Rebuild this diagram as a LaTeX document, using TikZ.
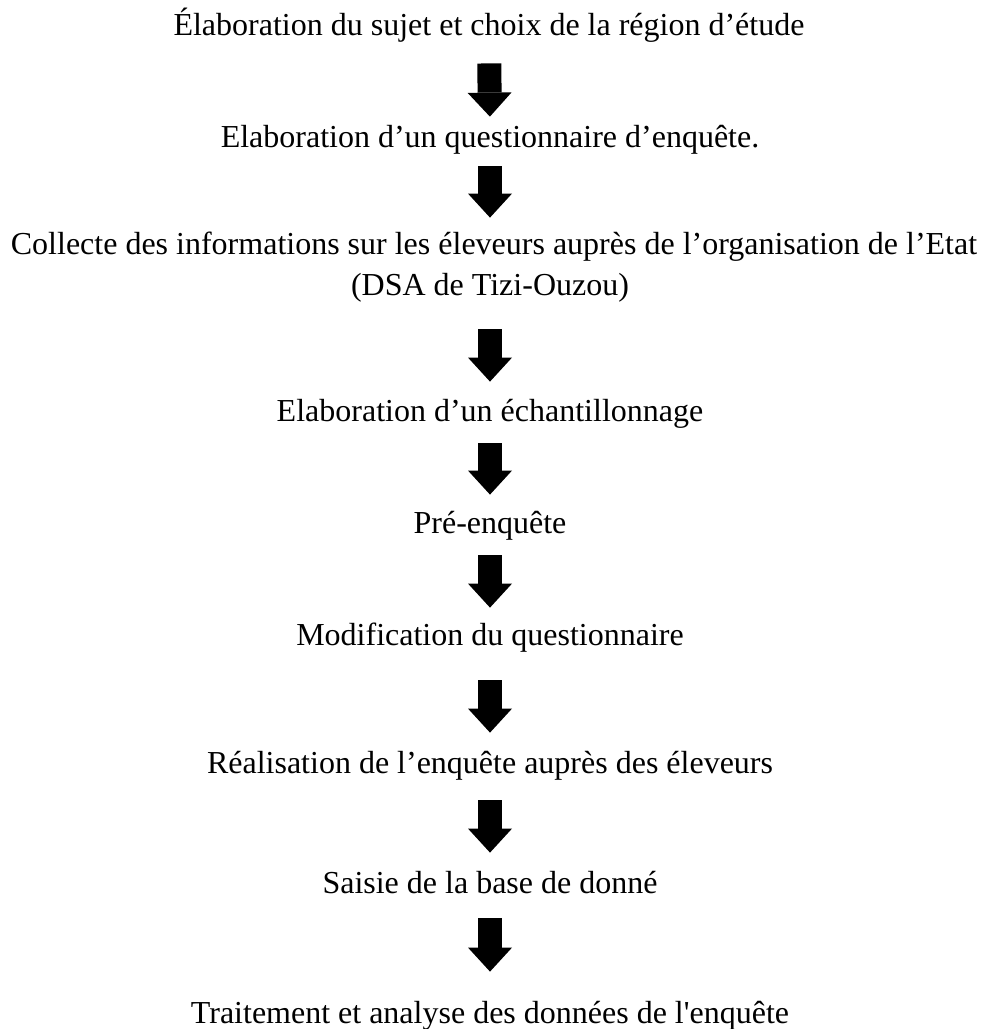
\documentclass[tikz,border=0pt]{standalone}
\usepackage{fontspec}
\setmainfont{Liberation Serif}
\usepackage{tikz}
\usetikzlibrary{arrows.meta, positioning, calc}
\tikzstyle{etape} = [anchor=base, inner sep=0pt, text height=11pt, text depth=3.5pt, font=\fontsize{16}{18}\selectfont]
\tikzstyle{fleche} = [line width=12pt, -{Triangle[width=22pt, length=12pt, line width=0pt]}]

\begin{document}
\begin{tikzpicture}[x=0.5pt, y=-0.5pt]
\useasboundingbox (0,0) rectangle (983,1029);
% etapes
\node[etape] (e1) at (489,35) {Élaboration du sujet et choix de la région d’étude};
\node[etape] (e2) at (490,147) {Elaboration d’un questionnaire d’enquête.};
\node[etape] (e3) at (494,254) {Collecte des informations sur les éleveurs auprès de l’organisation de l’Etat};
\node[etape] (e3b) at (490,295) {(DSA de Tizi-Ouzou)};
\node[etape] (e4) at (490,421) {Elaboration d’un échantillonnage};
\node[etape] (e5) at (490,533) {Pré-enquête};
\node[etape] (e6) at (490,645) {Modification du questionnaire};
\node[etape] (e7) at (490,773) {Réalisation de l’enquête auprès des éleveurs};
\node[etape] (e8) at (490,893) {Saisie de la base de donné};
\node[etape] (e9) at (490,1023) {Traitement et analyse des données de l\textquotesingle enquête};
% fleches
\draw[fleche, shorten <=10.5pt, shorten >=4pt] (e1.south) -- (e2.north);
\draw[fleche, shorten <=6pt, shorten >=7pt] (e2.south) -- (e3.north -| e2.south);
\draw[fleche, shorten <=13.5pt, shorten >=8.5pt] (e3b.south) -- (e4.north);
\draw[fleche, shorten <=7.5pt, shorten >=8pt] (e4.south) -- (e5.north);
\draw[fleche, shorten <=7.5pt, shorten >=7.5pt] (e5.south) -- (e6.north);
\draw[fleche, shorten <=14pt, shorten >=9pt] (e6.south) -- (e7.north);
\draw[fleche, shorten <=10pt, shorten >=9pt] (e7.south) -- (e8.north);
\draw[fleche, shorten <=9pt, shorten >=14.5pt] (e8.south) -- (e9.north);
\end{tikzpicture}
\end{document}
